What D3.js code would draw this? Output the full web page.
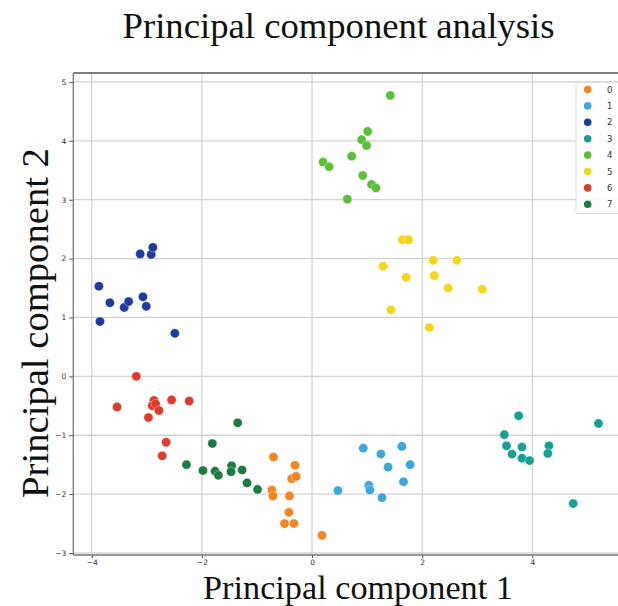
<!DOCTYPE html>
<html><head><meta charset="utf-8">
<script src="https://cdn.jsdelivr.net/npm/d3@7"></script>
<style>body{margin:0;background:#fff}svg{display:block}</style>
</head><body>
<svg id="c" width="618" height="606"></svg>
<script>
const classes = ["0","1","2","3","4","5","6","7"];
const colors = ["#f4861f","#3fa6d8","#1c3aa2","#17a194","#5bbf3c","#f4d61b","#df3a2b","#1c7b41"];
const xTicks = [-4,-2,0,2,4];
const yTicks = [-3,-2,-1,0,1,2,3,4,5];
// PC1 / PC2 values per class
const pc1_0 = [-0.70,-0.31,-0.37,-0.29,-0.73,-0.71,-0.41,-0.42,-0.50,-0.33,0.18];
const pc2_0 = [-1.37,-1.51,-1.74,-1.70,-1.93,-2.03,-2.03,-2.31,-2.50,-2.50,-2.70];
const pc1_1 = [0.47,0.93,1.25,1.63,1.38,1.78,1.03,1.05,1.27,1.66];
const pc2_1 = [-1.94,-1.22,-1.32,-1.19,-1.54,-1.50,-1.85,-1.93,-2.06,-1.79];
const pc1_2 = [-3.87,-3.67,-3.41,-3.33,-3.12,-2.92,-2.89,-3.07,-3.01,-3.85,-2.49];
const pc2_2 = [1.53,1.25,1.17,1.27,2.08,2.07,2.19,1.35,1.19,0.93,0.73];
const pc1_3 = [3.75,3.49,3.53,3.63,3.81,3.81,3.95,4.30,4.28,5.20,4.74];
const pc2_3 = [-0.67,-0.99,-1.18,-1.32,-1.20,-1.39,-1.43,-1.18,-1.31,-0.80,-2.16];
const pc1_4 = [1.42,1.01,0.90,0.99,0.72,0.20,0.31,0.92,1.08,1.16,0.64];
const pc2_4 = [4.77,4.16,4.02,3.92,3.74,3.64,3.56,3.41,3.26,3.20,3.01];
const pc1_5 = [1.64,1.75,1.29,2.20,2.63,1.71,2.22,2.47,3.09,1.43,2.13];
const pc2_5 = [2.32,2.32,1.87,1.97,1.97,1.68,1.71,1.50,1.48,1.13,0.83];
const pc1_6 = [-3.19,-3.54,-2.87,-2.90,-2.84,-2.78,-2.97,-2.55,-2.23,-2.65,-2.72];
const pc2_6 = [0.00,-0.52,-0.41,-0.50,-0.47,-0.58,-0.70,-0.40,-0.42,-1.12,-1.35];
const pc1_7 = [-1.35,-1.81,-2.28,-1.98,-1.76,-1.70,-1.46,-1.47,-1.27,-1.18,-0.99];
const pc2_7 = [-0.79,-1.14,-1.50,-1.60,-1.61,-1.68,-1.52,-1.62,-1.59,-1.81,-1.92];
const PC1 = [pc1_0,pc1_1,pc1_2,pc1_3,pc1_4,pc1_5,pc1_6,pc1_7];
const PC2 = [pc2_0,pc2_1,pc2_2,pc2_3,pc2_4,pc2_5,pc2_6,pc2_7];
const title = "Principal component analysis";
const xLabel = "Principal component 1";
const yLabel = "Principal component 2";

const svg = d3.select("#c");
const L=73.3, R=620, T=73, B=555;
const x = d3.scaleLinear().domain([-4.334, 5.59]).range([L, R]);
const y = d3.scaleLinear().domain([-3.034, 5.152]).range([B, T]);

// grid
const g = svg.append("g");
g.selectAll(".gx").data(xTicks).enter().append("line")
  .attr("x1",d=>x(d)).attr("x2",d=>x(d)).attr("y1",T).attr("y2",B)
  .attr("stroke","#d3d3d3").attr("stroke-width",1.3);
g.selectAll(".gy").data(yTicks).enter().append("line")
  .attr("x1",L).attr("x2",R).attr("y1",d=>y(d)).attr("y2",d=>y(d))
  .attr("stroke","#d3d3d3").attr("stroke-width",1.3);

// axes
const fmt = d => (d<0 ? "\u2212"+Math.abs(d) : ""+d);
const ax = svg.append("g").attr("transform",`translate(0,${B})`)
  .call(d3.axisBottom(x).tickValues(xTicks).tickFormat(fmt).tickSize(3).tickPadding(1.5));
const ay = svg.append("g").attr("transform",`translate(${L},0)`)
  .call(d3.axisLeft(y).tickValues(yTicks).tickFormat(fmt).tickSize(4).tickPadding(3));
[ax,ay].forEach(a=>{
  a.select(".domain").remove();
  a.selectAll(".tick line").attr("stroke","#555");
  a.selectAll(".tick text").attr("fill","#333").style("font-family","DejaVu Sans").style("font-size","7.5px");
});
// spines
svg.append("line").attr("x1",L).attr("x2",R).attr("y1",T).attr("y2",T).attr("stroke","#555").attr("stroke-width",1.4);
svg.append("line").attr("x1",L).attr("x2",R).attr("y1",B).attr("y2",B).attr("stroke","#777").attr("stroke-width",1.3);
svg.append("line").attr("x1",L).attr("x2",L).attr("y1",T).attr("y2",B).attr("stroke","#777").attr("stroke-width",1.3);

// points
classes.forEach((c,i)=>{
  const pts = PC1[i].map((v,j)=>({x:v,y:PC2[i][j]}));
  svg.append("g").selectAll("circle").data(pts).enter().append("circle")
    .attr("cx",d=>x(d.x)).attr("cy",d=>y(d.y)).attr("r",4.6)
    .attr("fill",colors[i]).attr("stroke","#fff").attr("stroke-width",0.6).attr("stroke-opacity",0.6);
});

// legend
const lg = svg.append("g");
lg.append("rect").attr("x",576).attr("y",82.5).attr("width",60).attr("height",131)
  .attr("fill","#fff").attr("fill-opacity",0.85).attr("stroke","#ddd").attr("stroke-width",1);
classes.forEach((c,i)=>{
  const yy = 89.5 + i*16.4;
  lg.append("circle").attr("cx",587.7).attr("cy",yy).attr("r",3.8).attr("fill",colors[i]);
  lg.append("text").attr("x",607).attr("y",yy+3).text(c)
    .attr("fill","#333").style("font-family","DejaVu Sans").style("font-size","8.5px");
});

// titles fitted to the reference widths
function fitText(sel, target){
  const n = sel.node();
  let fs = parseFloat(sel.style("font-size"));
  const len = n.getComputedTextLength();
  sel.style("font-size", (fs*target/len)+"px");
}
const t = svg.append("text").attr("x",338.5).attr("y",38).attr("text-anchor","middle")
  .style("font-family","Liberation Serif").style("font-size","30px").attr("fill","#111").text(title);
fitText(t, 432);
const xl = svg.append("text").attr("x",358).attr("y",598.5).attr("text-anchor","middle")
  .style("font-family","Liberation Serif").style("font-size","34px").attr("fill","#111").text(xLabel);
fitText(xl, 310);
const yl = svg.append("text").attr("transform","translate(48,323) rotate(-90)").attr("text-anchor","middle")
  .style("font-family","Liberation Serif").style("font-size","34px").attr("fill","#111").text(yLabel);
fitText(yl, 350);
</script>
</body></html>
